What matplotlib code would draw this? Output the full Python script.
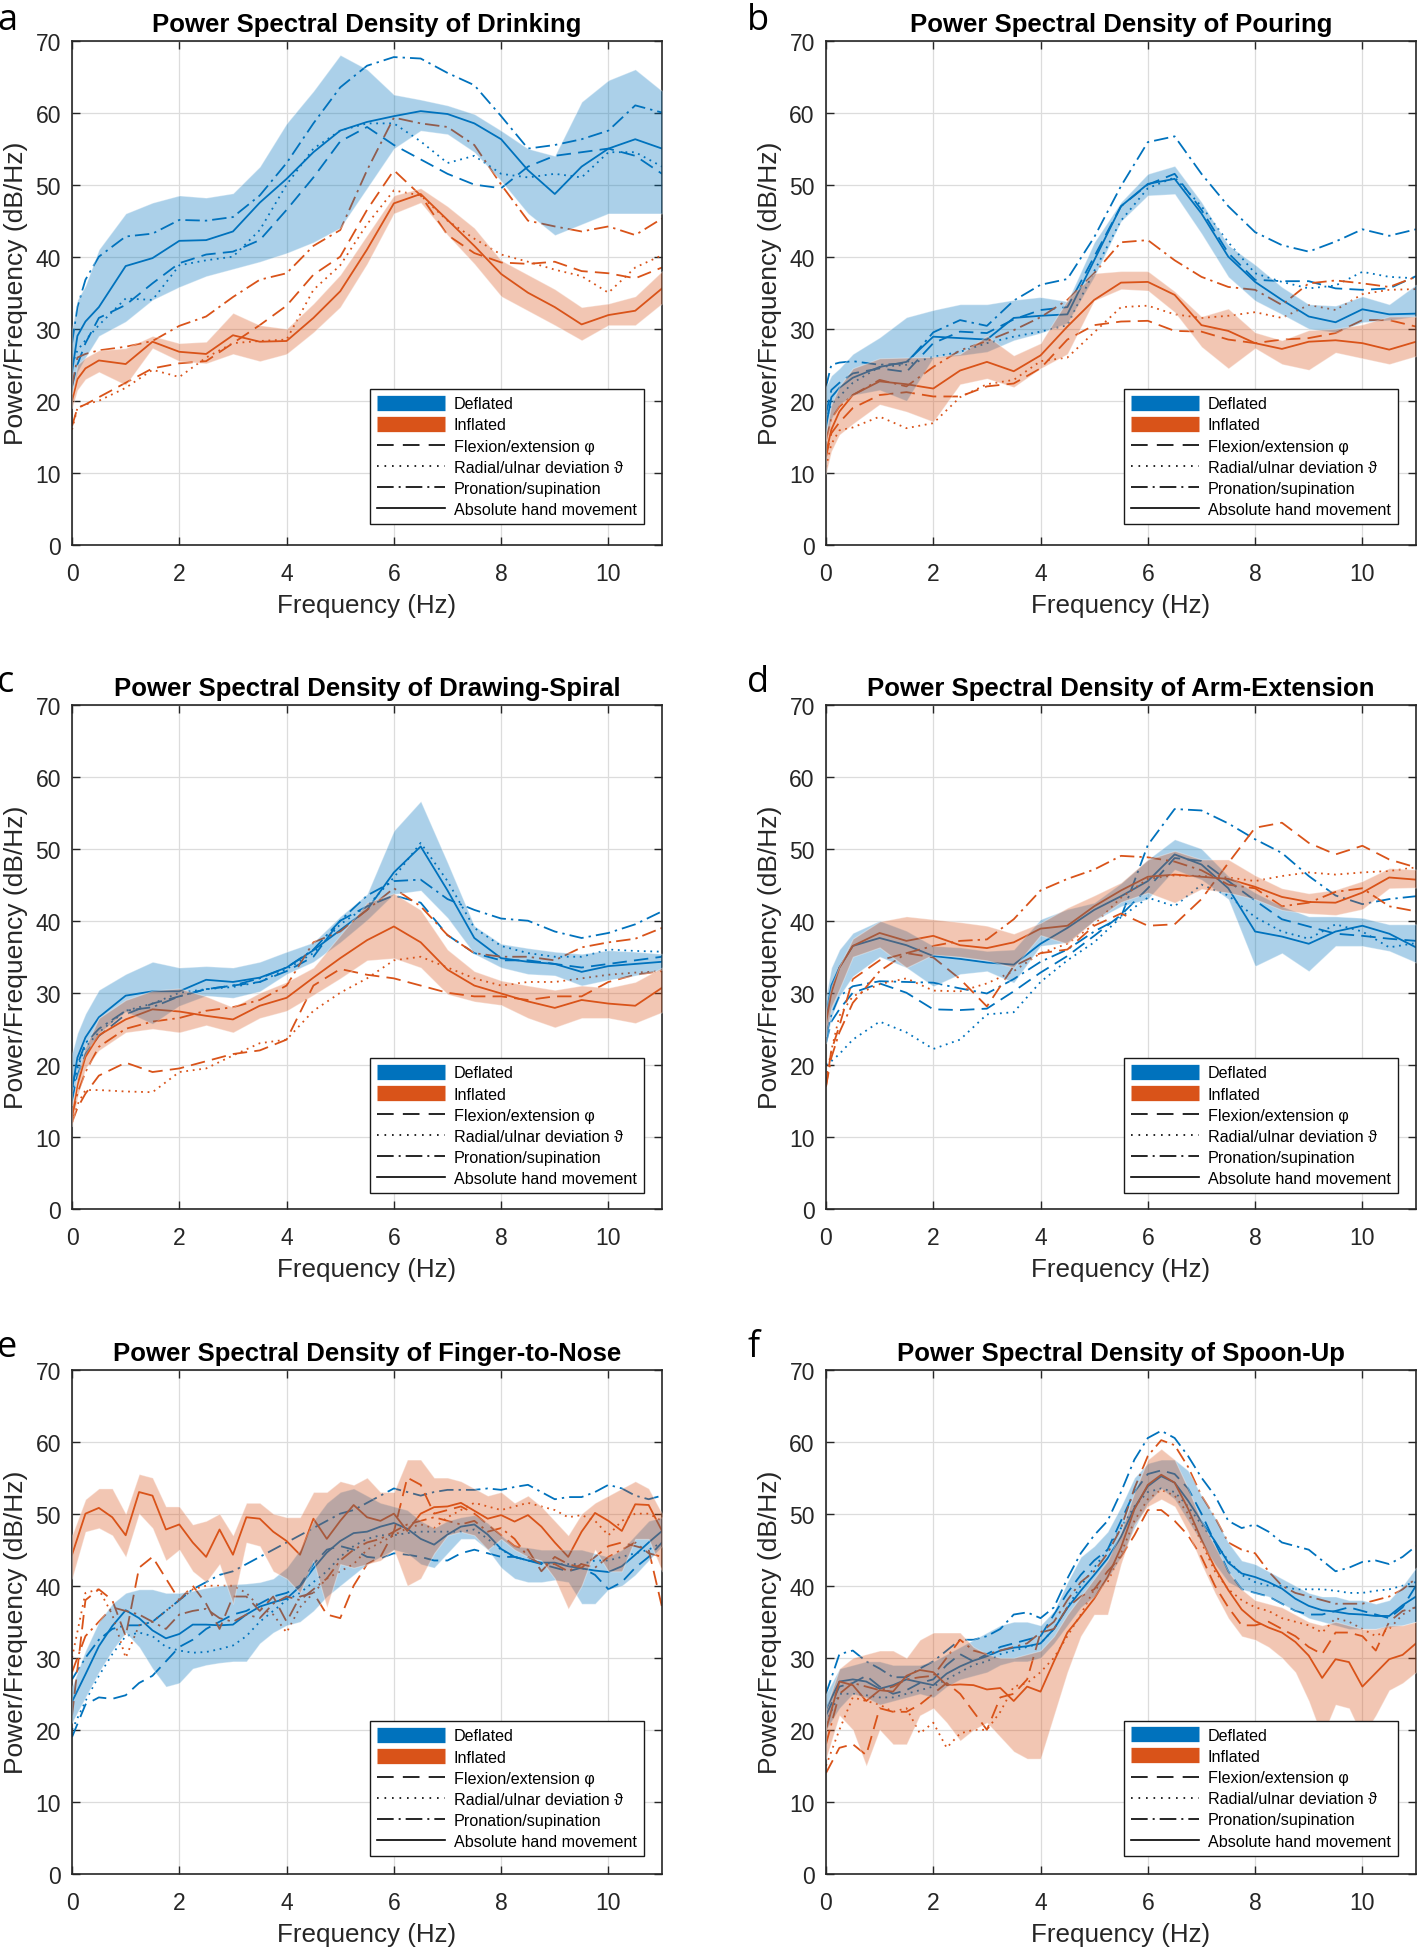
import numpy as np
import matplotlib.pyplot as plt
from matplotlib.lines import Line2D

plt.rcParams['font.family'] = ['Liberation Sans', 'DejaVu Sans']

BLUE = '#0072BD'
ORANGE = '#D95319'

# frequency bins (Hz)
freq_coarse = [0, 0.1, 0.25, 0.5, 1, 1.5, 2, 2.5, 3, 3.5, 4, 4.5, 5, 5.5, 6, 6.5,
               7, 7.5, 8, 8.5, 9, 9.5, 10, 10.5, 11]
freq_fine = [0, 0.25, 0.5, 0.75, 1, 1.25, 1.5, 1.75, 2, 2.25, 2.5, 2.75, 3, 3.25, 3.5,
             3.75, 4, 4.25, 4.5, 4.75, 5, 5.25, 5.5, 5.75, 6, 6.25, 6.5, 6.75, 7, 7.25,
             7.5, 7.75, 8, 8.25, 8.5, 8.75, 9, 9.25, 9.5, 9.75, 10, 10.25, 10.5, 10.75, 11]

# a - Drinking
a_def_abs = [24, 29, 31, 33, 38.7, 39.8, 42.2, 42.3, 43.5, 47.5, 50.8, 54.5, 57.5, 58.7, 59.5, 60.2, 59.8, 58.5, 56.3, 52, 48.7, 52.5, 55, 56.3, 55]
a_def_hi = [30, 34, 36, 41, 46, 47.5, 48.5, 48.2, 48.8, 52.5, 58.5, 63, 68, 66, 62.5, 61.8, 61, 59.8, 57.5, 55, 54, 61.5, 64.5, 66, 63]
a_def_lo = [21, 24, 26, 29, 31, 34, 35.8, 37.3, 38.3, 39.3, 40.5, 42, 44, 49.5, 55, 57.5, 57, 54.5, 50.5, 46, 43, 44.5, 46, 46, 46]
a_def_flex = [22, 25, 28, 31.5, 33.3, 36.3, 39.1, 40.3, 40.7, 42.3, 46.5, 51, 56, 58, 55.5, 53.5, 51.5, 50, 49.5, 52.5, 54, 54.5, 55, 54, 51.5]
a_def_rad = [25, 27, 28.4, 30.5, 34.2, 34, 38.8, 39.5, 40, 43.7, 50, 55, 57.5, 58.5, 58.5, 56, 53, 54, 51.5, 51, 51.5, 51, 54.5, 54.5, 52.5]
a_def_pro = [28, 33, 36.8, 40, 42.8, 43.2, 45.1, 45, 45.5, 48.5, 53, 58.5, 63.5, 66.5, 67.7, 67.5, 65.5, 63.8, 59.5, 55, 55.5, 56.3, 57.5, 61, 60]
a_inf_abs = [20, 23, 24.5, 25.6, 25.1, 28.2, 26.8, 26.5, 29.1, 28.2, 28.3, 31.5, 35.2, 41, 47.4, 48.7, 45.1, 41.5, 37.6, 35, 33, 30.6, 31.9, 32.5, 35.6]
a_inf_hi = [21, 25, 26, 27, 27.3, 29, 28, 28.2, 32.2, 30.5, 30, 33.5, 37.5, 43, 48.5, 49.5, 47, 44, 39.5, 37.5, 35.5, 33, 33.5, 34.5, 38]
a_inf_lo = [19, 21.5, 23, 24, 22.2, 27.3, 25.5, 25.2, 26.5, 25.5, 26.5, 29.5, 33, 39, 46, 47.5, 43, 39, 34.5, 32.5, 30.5, 28.4, 30.5, 30.5, 33.5]
a_inf_flex = [16.5, 19, 19.5, 20.5, 22.5, 24.5, 25.2, 25.5, 28, 30.5, 33.2, 37.5, 40, 46.5, 52, 48.5, 43, 40.5, 39.2, 39, 39.3, 38, 37.7, 37, 38.5]
a_inf_rad = [16, 19, 19.5, 20, 21.8, 24.3, 23.3, 26, 28, 28.3, 28.5, 35.4, 38.8, 44.5, 49.2, 48.5, 45, 42.5, 40.3, 39.3, 38.2, 37.3, 35, 38.5, 40.2]
a_inf_pro = [22, 26, 26.5, 27, 27.5, 28.3, 30.4, 31.7, 34.4, 36.8, 37.7, 41.5, 43.7, 52, 59.3, 58.5, 58, 55.5, 50, 45, 44.2, 43.5, 44.2, 43, 45.3]

# b - Pouring
b_def_abs = [16.4, 20.5, 21.8, 23.2, 24.7, 25.4, 28.9, 28.7, 28.5, 31.5, 31.8, 32, 39.5, 47, 50.1, 50.8, 46, 40, 36.5, 34, 31.7, 30.9, 32.7, 32, 32.1]
b_def_hi = [22, 23.5, 24.5, 26.5, 28.8, 31.6, 32.6, 33.4, 33.4, 34, 34.4, 33.8, 42, 47.6, 51.5, 52.6, 47.6, 41.6, 38.9, 35.8, 33.4, 33.2, 34.5, 33.4, 36.1]
b_def_lo = [14.5, 17.5, 19.5, 20.8, 21.5, 20, 26, 26.3, 26.8, 28.4, 29.4, 30.8, 37.2, 44.9, 48.5, 48.7, 43.2, 37.2, 33.9, 32, 30, 29.5, 30.9, 31.2, 31.7]
b_def_flex = [18.2, 21.5, 22.5, 23.8, 24.5, 24, 28, 29.6, 29.4, 31.3, 32.6, 33, 40, 47, 50, 51.5, 46.5, 40.5, 36.8, 36.6, 36.6, 35.6, 35.4, 35.6, 37.3]
b_def_rad = [17.3, 19.5, 20.6, 22.5, 24.7, 25, 26.1, 26.8, 28, 28.9, 29.6, 30.5, 38, 45, 49.5, 51, 47, 42, 37.7, 36.5, 35.6, 36, 37.9, 37.2, 37]
b_def_pro = [21.9, 25, 25.3, 25.5, 25, 25.2, 29.5, 31.2, 30.4, 33.9, 36.1, 36.9, 42.7, 49.8, 55.9, 56.7, 51.5, 47, 43.4, 41.6, 40.7, 42.1, 43.8, 42.9, 43.8]
b_inf_abs = [12.7, 16, 18.5, 20.8, 22.7, 22.3, 21.7, 24.2, 25.4, 24.1, 26.3, 30.3, 34, 36.4, 36.5, 34.7, 30.5, 29.7, 28, 27.2, 28.2, 28.4, 28, 27.1, 28.2]
b_inf_hi = [15.5, 19.5, 22, 24.5, 25.9, 26, 26.1, 26.5, 29, 26.3, 28, 34, 37.7, 38, 38, 35.2, 31.7, 32.8, 29.5, 28.4, 29.8, 30, 30.6, 31.7, 31.7]
b_inf_lo = [9.9, 13, 15.3, 16.8, 19.5, 18.5, 17.1, 22.3, 23.1, 21.9, 24.5, 26.5, 33.9, 35.5, 35.3, 32.3, 27.5, 24.5, 27.3, 25.1, 24.3, 26.7, 25.9, 25.1, 26.2]
b_inf_flex = [12.2, 15.5, 17, 19, 20.8, 21.2, 20.6, 20.6, 22, 22.4, 24.5, 28.5, 30.5, 31, 31.1, 29.7, 29.6, 28.5, 28, 28.5, 28.7, 29.4, 31.2, 31.2, 30.3]
b_inf_rad = [10.8, 14, 15.9, 16.3, 17.8, 16.2, 16.9, 20.5, 22.3, 22.9, 25.5, 26, 29.5, 33, 33.2, 32, 31.5, 31.8, 32.3, 31.5, 33.3, 32.6, 34.8, 35.4, 35.5]
b_inf_pro = [14.5, 17.5, 19.2, 20.8, 22.9, 22, 24.7, 27, 28.3, 29.8, 31.6, 34, 37.7, 42, 42.3, 39.5, 37.2, 35.8, 35.4, 33.3, 36.3, 36.7, 36.3, 35.8, 37.2]

# c - Drawing-Spiral
c_def_abs = [16.6, 21, 23.8, 26.6, 29.6, 30.2, 30.2, 31.8, 31.5, 32.1, 33.5, 35.9, 38.7, 41.5, 46.7, 50.3, 44.2, 37.6, 34.8, 34.3, 34, 32.9, 33.7, 34, 34.3]
c_def_hi = [21.6, 24.4, 27.1, 30.4, 32.6, 34.3, 33.5, 33.7, 33.5, 34.3, 35.7, 37, 40.6, 43.7, 52.5, 56.6, 48.1, 39.3, 36.8, 36.2, 35.7, 35.4, 35.9, 35.7, 35.4]
c_def_lo = [14.4, 18.3, 21.6, 24.4, 27.4, 25.7, 28.2, 29.6, 29.3, 30.2, 32.6, 34.3, 37, 40.1, 43.7, 44.2, 40.4, 35.4, 33.5, 32.6, 32.4, 31, 31.8, 32.4, 33.2]
c_def_flex = [15, 18.5, 21.5, 24, 27, 28.5, 29.5, 30.5, 31, 31.5, 33, 35, 40, 42, 43.5, 42.5, 38, 35.5, 34.5, 34.5, 34, 33.5, 34, 34.5, 35]
c_def_rad = [16, 19.5, 22.5, 24.5, 27.5, 28.5, 30, 30.5, 30.8, 31.5, 33.3, 35.5, 39.5, 42, 46, 50.8, 45.5, 39, 36.5, 35.5, 35, 35, 36, 35.8, 35.7]
c_def_pro = [17, 20, 23, 25, 27.5, 28, 29.5, 30.5, 31, 32, 33.5, 36, 40, 43.5, 45.5, 45.7, 43, 41.5, 40.3, 40, 38.5, 37.6, 38.3, 39.5, 41.3]
c_inf_abs = [12.8, 17.2, 21.1, 24.1, 26.3, 27.7, 27.4, 26.8, 26.3, 28.2, 29.3, 32.1, 34.8, 37.3, 39.2, 37, 33.2, 31, 29.9, 28.8, 27.9, 29, 28.5, 28.2, 30.7]
c_inf_hi = [14, 18.5, 22.5, 26.5, 29, 30.3, 30.6, 29.5, 28, 30, 31.5, 33.5, 38, 42.5, 43.8, 41.5, 36, 33, 31.7, 31, 30.4, 31, 30.7, 31.5, 33.5]
c_inf_lo = [11.5, 15.5, 19.5, 22, 24.5, 25, 24.5, 25.5, 24.5, 26.5, 27.5, 29.7, 32, 34.5, 34.8, 33.5, 29.8, 28.8, 28.3, 26.5, 25.2, 26.5, 26.5, 25.8, 27.3]
c_inf_flex = [12, 14, 16, 18.5, 20.3, 19, 19.5, 20.5, 21.5, 22, 23.5, 31, 33.3, 32.5, 32, 31, 30, 29.5, 29.5, 29, 29.5, 29.5, 31.5, 32.5, 33]
c_inf_rad = [12, 14.5, 16.5, 16.5, 16.3, 16.2, 19, 19.5, 21.3, 23, 23.5, 27.5, 30, 32, 34.5, 35, 33.5, 32, 31, 31.5, 31.5, 32, 32.5, 32.8, 33]
c_inf_pro = [13, 16, 19, 22.5, 25, 26, 26.5, 27.5, 28, 29, 31, 37, 38.5, 41.5, 44.5, 42, 38, 35.5, 35, 35, 34.5, 36.3, 37, 37.5, 39]

# d - Arm-Extension
d_def_abs = [26.8, 31, 33.5, 36.5, 37.6, 36.6, 35.1, 34.7, 34.2, 33.9, 36.8, 39, 41.5, 43.4, 45.5, 49.2, 47.8, 44.5, 38.5, 37.8, 36.8, 38.5, 39.3, 38.2, 36.3]
d_def_hi = [29.5, 33.5, 36, 38.3, 40, 38.6, 36.5, 36.3, 35.8, 36, 40.2, 41.6, 42.5, 45.2, 48.5, 51.3, 50, 46.2, 43.9, 42, 40.6, 40.6, 40.4, 39.5, 39.5]
d_def_lo = [23, 26.5, 29.5, 32.3, 35, 33.5, 30.9, 32.6, 33, 31.4, 36.5, 37, 40, 42, 43, 47.1, 45.7, 43, 33.7, 35.5, 33, 36.5, 36.5, 35.8, 34.2]
d_def_flex = [23, 26, 27.7, 30, 31.3, 30, 27.7, 27.6, 27.8, 30.2, 32.8, 35.1, 37.9, 40.8, 44.5, 48.7, 48.3, 45.5, 42.8, 40.2, 39.2, 38.2, 37.9, 37.5, 37.2]
d_def_rad = [20, 20.5, 21.5, 23.5, 26, 24.5, 22.2, 23.5, 27, 27.3, 31.5, 34.5, 37, 40.5, 43.2, 42, 45, 43.5, 40.5, 38.5, 37.5, 39.5, 38.5, 36.3, 36.9]
d_def_pro = [24, 27, 29.5, 30.9, 31.6, 31.5, 31.4, 30.6, 29.9, 31.9, 34.3, 36, 38.5, 40.5, 50.5, 55.5, 55.3, 53.5, 51.3, 49.4, 46.2, 43.5, 42.3, 43, 43.4]
d_inf_abs = [25.8, 30, 33.5, 36.5, 38.3, 37.2, 37.9, 36.6, 36.2, 37, 38.9, 39.3, 42, 44.2, 46.1, 46.4, 46.1, 45.8, 44.7, 43.3, 42.6, 42.5, 43.9, 46, 45.7]
d_inf_hi = [27.7, 31, 33.7, 37.5, 39.9, 40.6, 40.2, 39.8, 39.3, 38.2, 39.7, 41.8, 43.5, 45.3, 48.5, 49.7, 48.5, 48.5, 46.3, 44.5, 43.8, 44.3, 45.5, 47.3, 47.1]
d_inf_lo = [24, 28, 30.5, 35, 36.3, 33.5, 35.3, 35, 34.5, 33.5, 38, 36.8, 40, 42.6, 43.9, 42.5, 44.4, 43.9, 43, 41.5, 41, 40.8, 41.6, 44.5, 44.6]
d_inf_flex = [17, 22, 25.4, 31.9, 34.5, 35.5, 34.9, 31.9, 28.1, 33.7, 35.5, 36, 39.3, 41, 39.3, 39.5, 43, 48, 52.9, 53.6, 50.8, 49.2, 50.4, 48.5, 47.4]
d_inf_rad = [18, 22, 26.8, 29.5, 31.2, 32, 30.3, 30.2, 31.3, 33, 35.5, 36.8, 39.5, 43.2, 45.8, 46.3, 46.2, 46, 45.5, 46.2, 46.7, 46.4, 46.7, 46.9, 47.4]
d_inf_pro = [17, 21, 24.5, 28.6, 33, 35.5, 36.5, 37.2, 37.4, 40.2, 44.2, 45.8, 47.1, 49, 48.8, 48.2, 47, 45, 44.5, 42, 42.5, 44, 44.5, 42, 41.3]

# e - Finger-to-Nose
e_def_abs = [23.9, 27.7, 31.6, 34.4, 36.6, 35.5, 33.8, 32.7, 33.3, 34.6, 34.6, 34.5, 34.6, 36, 37.1, 37.7, 38.2, 39.9, 42.4, 44.6,
             46.2, 47.3, 47.5, 48.2, 48.7, 47.9, 46.5, 45.7, 47.1, 48.2, 48.5, 47.1, 45.1, 44, 43.5, 43.2, 43.2, 42.7, 42.4, 42.1,
             41.9, 42.7, 44.3, 46, 47.6]
e_def_hi = [26, 31, 35, 37.5, 39, 39.5, 39.5, 39, 39, 39.3, 39.7, 40, 40.2, 40.3, 40.5, 41, 42.5, 45, 49, 51.5,
            53, 53.5, 52.5, 51.5, 51, 50.5, 49, 48, 49, 49.5, 49.8, 48.7, 47, 45.5, 45.3, 45, 45, 45, 45, 44.5,
            44, 45, 47, 49, 49.5]
e_def_lo = [21, 24.5, 28, 31, 33.5, 31.5, 28.5, 26, 26.5, 28.5, 29, 29.3, 29.5, 29.5, 32, 33.5, 34.5, 35, 36.5, 38.5,
            40, 41.5, 43, 44, 45, 44.5, 43, 42.5, 44.5, 46.5, 46.5, 45, 42.5, 41, 40.5, 40.5, 40.8, 40.5, 37.5, 37.5,
            39.5, 40, 41.5, 43.5, 45.5]
e_def_flex = [19, 23.5, 24.5, 24.3, 24.8, 26.5, 27.5, 29.5, 31.5, 32.5, 34, 35, 36, 36.5, 37.5, 38.5, 39, 40, 43, 45,
              45.5, 45, 44, 43.8, 44.5, 44.3, 44, 43.5, 43.5, 44.5, 45, 44.5, 44, 44, 43.5, 43, 42.5, 42, 42.5, 41.5,
              39.5, 40.5, 42.5, 44, 46]
e_def_rad = [20, 24, 27.5, 30.5, 33, 33.5, 33, 31.5, 31, 30.7, 30.8, 31.2, 31.7, 33, 35, 36.5, 38, 39, 40.5, 42,
             44, 45.5, 46.5, 47, 47, 47.3, 47.5, 47.5, 47.5, 47.5, 47.8, 46.5, 45, 44, 43.5, 43.2, 43, 43, 43, 43.5,
             43.5, 44, 44.5, 45, 46]
e_def_pro = [27, 30, 32.5, 34, 34.5, 34.5, 35, 36.5, 38, 39.5, 40.5, 41.5, 42, 43, 44, 45, 46, 47, 48, 49,
             50, 50.5, 51.5, 52.5, 53.5, 53, 52.5, 53, 53.3, 53.3, 53.3, 53.5, 53.3, 53.7, 54, 53, 52, 52.3, 52.3, 53,
             54, 53.5, 52.5, 52, 52.5]
e_inf_abs = [44.3, 50, 50.8, 49.5, 47, 53, 52.5, 47.8, 48.5, 46, 44, 47.8, 44.3, 49.5, 49.3, 47.5, 46.2, 44.3, 49.3, 46.5,
             49, 51.2, 49.5, 49, 50, 47.6, 50, 50.9, 51, 51.5, 50.4, 49.3, 49.8, 48.9, 49.8, 48.2, 46, 44, 47.5, 50.1,
             49, 47.6, 51.3, 51.2, 47.6]
e_inf_hi = [47, 52, 53.5, 53.5, 50, 55.5, 55, 51, 51, 48.5, 49, 50, 47, 51.5, 51.5, 50, 49.5, 49.5, 53, 53,
            54.5, 54, 55, 53, 53, 57.5, 57.5, 55, 55, 54.5, 53.5, 52.5, 53, 51.5, 52.5, 51, 49, 47, 50, 51.5,
            52.5, 53.5, 54.5, 53.5, 50]
e_inf_lo = [41, 47.5, 48, 47, 44, 50, 48, 43.5, 45, 42, 40.5, 43, 37.5, 46, 45.5, 42, 41, 39, 43.5, 37,
            43, 42.5, 43, 43.5, 45, 40, 41, 44.5, 47, 47.5, 47, 45, 46.5, 45, 44, 43.5, 41, 36.8, 40, 45,
            42, 42, 46.5, 46.5, 42]
e_inf_flex = [22, 38, 39.5, 38, 33, 42.5, 44, 41, 38, 40, 37.5, 34, 38.5, 38.5, 36.5, 38.5, 35, 38.5, 39, 36,
              35.5, 40, 43, 44, 47.5, 55, 54, 50, 50.5, 51, 50, 48.5, 47, 45.5, 45, 42, 44, 43, 42.5, 44,
              45.5, 46, 45.5, 45, 37]
e_inf_rad = [30, 39, 39.5, 36, 30, 34.5, 35, 36.5, 38, 39.5, 40, 40, 40, 39, 37, 36, 33.5, 37, 39, 41,
             42, 43, 45, 46, 47, 48, 48.5, 48, 49.5, 50.5, 51.5, 51, 50.5, 51, 51.5, 51, 50.5, 49.5, 49.8, 49,
             47, 49, 50, 50, 49]
e_inf_pro = [28, 33, 35, 37, 36.5, 36, 35, 34, 36, 36.5, 36.8, 35.5, 35, 36, 35.5, 37.5, 38.5, 38, 39.5, 41,
             43.5, 45, 46, 46.5, 47.5, 48.5, 49, 49.5, 49, 48.5, 49, 47.5, 48, 46.5, 44, 43, 43, 42, 43, 42.5,
             44, 45, 46, 44.5, 44]

# f - Spoon-Up
f_def_abs = [22.8, 26.7, 27, 26.7, 25.7, 26.2, 27, 26.6, 26.2, 27.8, 28.8, 29.6, 30.2, 31, 31.4, 31.6, 32, 34, 36.9, 39.3,
             41.5, 43.8, 46.8, 50.8, 53.8, 55.2, 54.3, 51.8, 48.9, 46.2, 43.2, 41.7, 41.2, 40.5, 39.6, 38.2, 37.2, 36.6, 36.4, 36.1,
             36, 35.8, 35.8, 37.3, 38.5]
f_def_hi = [25, 28.5, 29, 29.5, 29.5, 29, 29, 29, 29.5, 30.5, 31.5, 32.5, 33.5, 34.5, 35, 35, 34.5, 36.5, 40.5, 44,
            45.5, 47.5, 51, 55, 57, 57.5, 57.5, 56, 52.5, 49.5, 46, 43.5, 43, 42, 41, 40, 39, 38.5, 38.5, 38,
            38, 37.5, 38, 40, 42.5]
f_def_lo = [20, 23, 25, 24.5, 23.5, 24, 24.5, 25, 24.5, 26, 27, 27.5, 28, 29, 29.5, 29.5, 30, 32, 34.5, 37,
            38.5, 41, 44, 48, 51.5, 53.5, 52, 49, 46, 43, 40.5, 39.5, 39, 38.5, 37.5, 36.5, 35.5, 35, 34.5, 34,
            34, 34, 34.3, 34.5, 35]
f_def_flex = [22, 26, 26.5, 27.5, 26, 25, 25.5, 26.5, 27, 29, 30.5, 29.5, 30.5, 31.5, 32, 32.5, 33, 36, 39, 41.5,
              43.5, 45, 49, 53, 55.5, 56, 55.5, 53.5, 50, 46, 42, 39.5, 39, 38.5, 37.5, 36.5, 36, 36, 36.5, 37,
              36.5, 36, 35.5, 37, 40]
f_def_rad = [21, 25, 25, 24.8, 24.5, 24.5, 25, 25.5, 26, 27, 28, 29, 29.5, 30.5, 31, 31.5, 32, 34, 37, 40,
             42.5, 45, 48, 51, 53, 53.5, 53, 51, 48.5, 46, 43.5, 41.5, 40.5, 40, 40, 39.5, 39.5, 39.5, 39.3, 39,
             39, 39.3, 39.5, 40, 40.5]
f_def_pro = [25, 30.5, 31, 29.5, 28.5, 27.3, 27.3, 28.5, 29.5, 31, 32.5, 32.5, 33, 34, 36, 36.3, 35.5, 37, 41, 44.5,
             47, 49, 53, 57.5, 60.5, 61.5, 60.5, 58, 55, 52.5, 49, 48, 48.5, 47.5, 46, 45.5, 45, 43.5, 42, 42.5,
             43.3, 43.5, 43, 44, 45.5]
f_inf_abs = [20, 26.7, 26.2, 24, 25.5, 25.3, 27.5, 28.3, 28, 26.2, 26.3, 26.2, 25.6, 25.8, 24, 26, 25.3, 29.5, 33.5, 35.8,
             38.2, 41.2, 45.3, 50.6, 54, 55.4, 54.3, 50.7, 46.4, 42.5, 39.4, 36.7, 35.1, 34.2, 33.5, 32.2, 30.3, 27.2, 29.8, 29.4,
             26, 27.9, 29.8, 30.4, 32]
f_inf_hi = [23, 28.5, 30, 30.5, 31, 31, 30, 32.5, 33.5, 33.5, 33.5, 31.5, 30.5, 30, 30, 30.5, 31, 33, 36, 38.5,
            41, 43.5, 47.5, 53, 57.5, 59, 57.5, 53.5, 49, 45.5, 42, 39.5, 38, 37.5, 37, 36, 35, 34.5, 35, 34.5,
            34, 34, 34.5, 34.5, 35]
f_inf_lo = [16, 22, 20, 15, 20, 18, 18, 22, 23, 21, 18.5, 20, 21, 19, 17, 16, 16, 22, 28, 33,
            36, 36, 43, 48.5, 51, 52, 51, 47.5, 43, 39, 35.5, 33, 32.5, 31.5, 30, 28, 24, 19, 23.5, 23,
            19, 22, 25.5, 26.5, 28]
f_inf_flex = [14, 17.5, 18, 16.5, 23, 22.5, 22.5, 23.5, 25, 26.5, 25, 22.5, 20, 24.5, 25, 27, 33.5, 34, 37, 38.5,
              39.5, 42, 44, 47, 50.5, 50.5, 49, 47, 44, 40, 37, 34.5, 34.5, 35, 34, 33, 31.5, 30.5, 33.5, 33.5,
              33, 31, 35, 36.5, 37]
f_inf_rad = [15, 20, 24.5, 24, 23.5, 22.5, 23, 19.5, 21, 17.5, 19.5, 20, 20, 22.5, 26, 26.5, 28, 30, 33, 36,
             39.5, 40.5, 44.5, 49, 52, 53.3, 52.5, 50, 46, 42, 39.5, 38, 37, 36.5, 35.5, 35, 34.5, 33.5, 35.5, 35,
             34, 33, 34, 36, 37]
f_inf_pro = [18, 25, 26.5, 26, 25.5, 26, 27, 27.3, 27.5, 30, 32.5, 31, 30.5, 31, 31.5, 32, 33.5, 35, 38, 40.5,
             42, 44.5, 48, 53.5, 58, 60.2, 59.5, 56.5, 52.5, 49.5, 46, 45, 44.5, 42, 40, 39, 38.5, 38, 37.5, 37.5,
             37.5, 38, 38.5, 39.5, 41]

titles = ['Drinking', 'Pouring', 'Drawing-Spiral', 'Arm-Extension', 'Finger-to-Nose', 'Spoon-Up']
letters = ['a', 'b', 'c', 'd', 'e', 'f']

panels = [
    (freq_coarse, (a_def_lo, a_def_hi, a_def_abs, a_def_flex, a_def_rad, a_def_pro),
     (a_inf_lo, a_inf_hi, a_inf_abs, a_inf_flex, a_inf_rad, a_inf_pro)),
    (freq_coarse, (b_def_lo, b_def_hi, b_def_abs, b_def_flex, b_def_rad, b_def_pro),
     (b_inf_lo, b_inf_hi, b_inf_abs, b_inf_flex, b_inf_rad, b_inf_pro)),
    (freq_coarse, (c_def_lo, c_def_hi, c_def_abs, c_def_flex, c_def_rad, c_def_pro),
     (c_inf_lo, c_inf_hi, c_inf_abs, c_inf_flex, c_inf_rad, c_inf_pro)),
    (freq_coarse, (d_def_lo, d_def_hi, d_def_abs, d_def_flex, d_def_rad, d_def_pro),
     (d_inf_lo, d_inf_hi, d_inf_abs, d_inf_flex, d_inf_rad, d_inf_pro)),
    (freq_fine, (e_def_lo, e_def_hi, e_def_abs, e_def_flex, e_def_rad, e_def_pro),
     (e_inf_lo, e_inf_hi, e_inf_abs, e_inf_flex, e_inf_rad, e_inf_pro)),
    (freq_fine, (f_def_lo, f_def_hi, f_def_abs, f_def_flex, f_def_rad, f_def_pro),
     (f_inf_lo, f_inf_hi, f_inf_abs, f_inf_flex, f_inf_rad, f_inf_pro)),
]

LW = 1.3
DASH = (8, 4)
DOT = (1, 2.6)
DASHDOT = (8, 2.8, 1.3, 2.8)

# axes boxes in figure fractions (left, bottom)
lefts = [0.0508, 0.5825]
bottoms = [0.7199, 0.3792, 0.0380]
W, H = 0.4161, 0.2588
leg_y = [0.041, 0.041, 0.031, 0.031, 0.035, 0.036]
letter_x = [-0.002, 0.527]
letter_y = [0.9848, 0.6447, 0.3039]

fig = plt.figure(figsize=(14.18, 19.49), dpi=100)

for i, (freq, dfl, inf) in enumerate(panels):
    row, col = divmod(i, 2)
    ax = fig.add_axes([lefts[col], bottoms[row], W, H])

    for vals, c in ((dfl, BLUE), (inf, ORANGE)):
        lo, hi, ab, fl, ra, pr = vals
        ax.plot(freq, fl, color=c, lw=LW, dashes=DASH)
        ax.plot(freq, ra, color=c, lw=LW, dashes=DOT)
        ax.plot(freq, pr, color=c, lw=LW, dashes=DASHDOT)
        ax.plot(freq, ab, color=c, lw=LW)
    # transparent bands end up on top of the lines (like the original renderer)
    for vals, c in ((dfl, BLUE), (inf, ORANGE)):
        ax.fill_between(freq, vals[0], vals[1], facecolor=c, edgecolor='white',
                        lw=0.8, alpha=0.33, zorder=3)

    ax.set_xlim(0, 11)
    ax.set_ylim(0, 70)
    ax.set_xticks([0, 2, 4, 6, 8, 10])
    ax.set_yticks(range(0, 71, 10))
    ax.tick_params(direction='in', length=6, width=1, top=True, right=True,
                   labelsize=16.5, colors='#262626')
    ax.tick_params(axis='x', pad=12)
    ax.tick_params(axis='y', pad=8)
    ax.grid(True, color='#DCDCDC', lw=0.9)
    ax.set_axisbelow(True)
    for s in ax.spines.values():
        s.set_linewidth(1.2)
        s.set_color('#262626')

    ax.set_xlabel('Frequency (Hz)', fontsize=18.7, labelpad=6, color='#262626')
    ax.set_ylabel('Power/Frequency (dB/Hz)', fontsize=19, labelpad=5, color='#262626')
    ax.set_title('Power Spectral Density of ' + titles[i], fontsize=18.5,
                 fontweight='bold', pad=7)

    handles = [
        Line2D([], [], color=BLUE, lw=11, solid_capstyle='butt'),
        Line2D([], [], color=ORANGE, lw=11, solid_capstyle='butt'),
        Line2D([], [], color='k', lw=1.2, dashes=(10, 5.5)),
        Line2D([], [], color='k', lw=1.2, dashes=(1, 3.5)),
        Line2D([], [], color='k', lw=1.2, dashes=(10, 3, 1.2, 3)),
        Line2D([], [], color='k', lw=1.2),
    ]
    labels = ['Deflated', 'Inflated', 'Flexion/extension \u03c6',
              'Radial/ulnar deviation \u03d1', 'Pronation/supination',
              'Absolute hand movement']
    leg = ax.legend(handles, labels, loc='lower right',
                    bbox_to_anchor=(0.9695, leg_y[i]), borderaxespad=0,
                    fontsize=11.6, handlelength=4.2, handletextpad=0.55,
                    labelspacing=0.38, borderpad=0.45, fancybox=False,
                    framealpha=1, edgecolor='#1a1a1a')
    leg.get_frame().set_linewidth(1.0)

    fig.text(letter_x[col], letter_y[row], letters[i], fontsize=26,
             family=['Open Sans', 'DejaVu Sans'], va='baseline', ha='left')

fig.savefig('out.png', dpi=100)
